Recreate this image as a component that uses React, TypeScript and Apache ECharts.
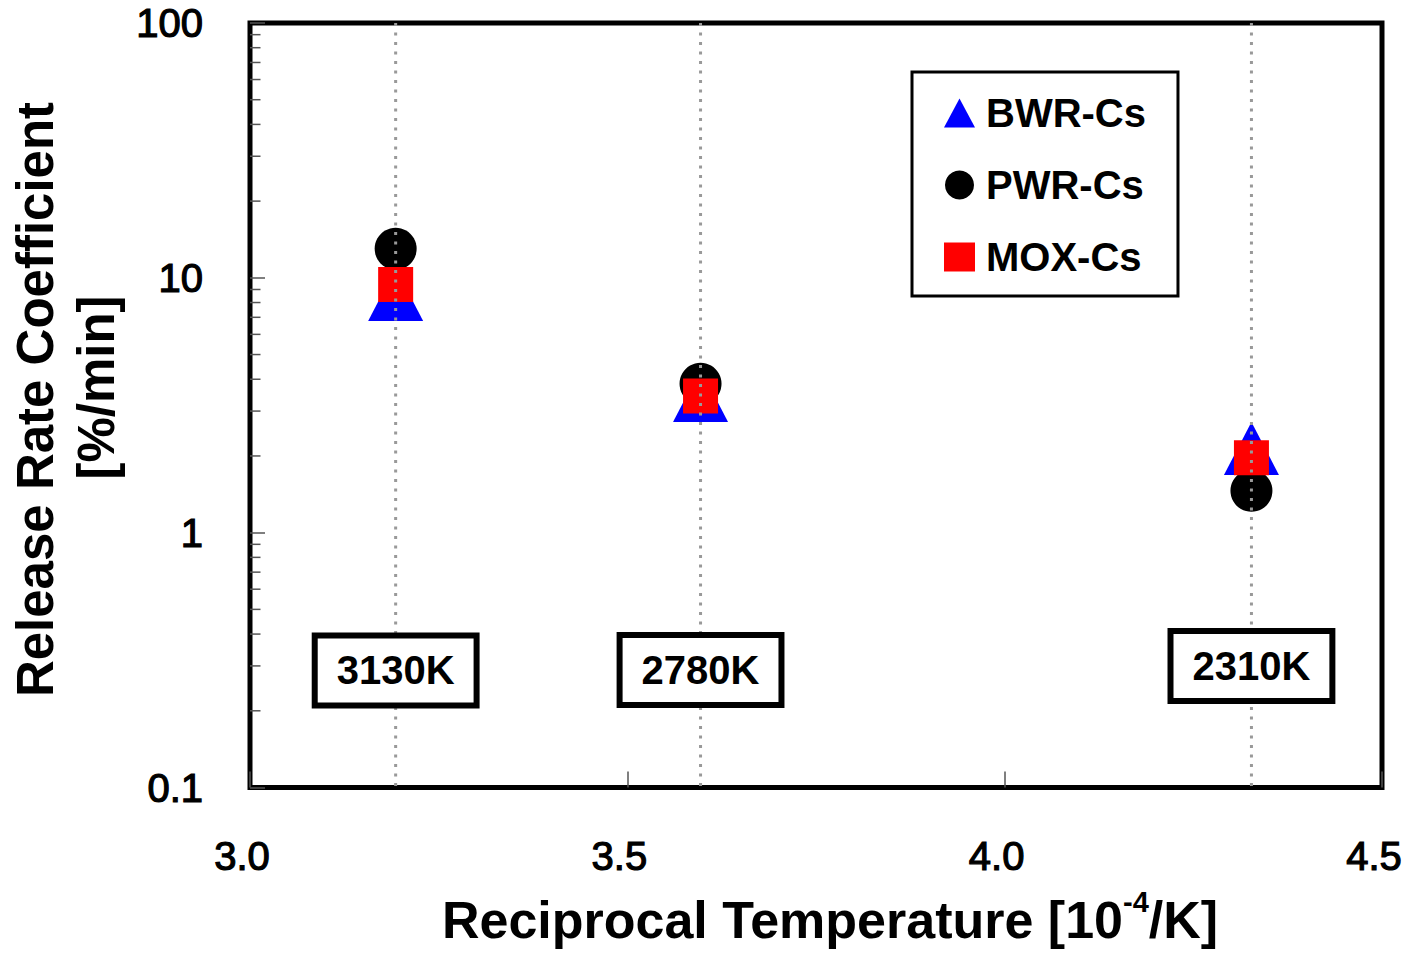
import React, { useEffect, useRef } from 'react';
import * as echarts from 'echarts';

const temperatures = ['3130K', '2780K', '2310K'];
const reciprocalT = [3.193, 3.597, 4.327];
const bwrCs = [8.6, 3.45, 2.14];
const pwrCs = [13.0, 3.84, 1.46];
const moxCs = [9.41, 3.44, 1.97];
const tempLabelY = [0.288, 0.289, 0.3];
const yMinorTicks = [
  0.2, 0.3, 0.4, 0.5, 0.6, 0.7, 0.8, 0.9,
  2, 3, 4, 5, 6, 7, 8, 9,
  20, 30, 40, 50, 60, 70, 80, 90,
];
const xMin = 3.0;
const xMax = 4.5;
const xInterval = 0.5;
const yMin = 0.1;
const yMax = 100;

const FONT = '"Liberation Sans", Arial, sans-serif';

export default function App() {
  const ref = useRef<HTMLDivElement>(null);
  useEffect(() => {
    if (!ref.current) return;
    const chart = echarts.init(ref.current, null, { renderer: 'svg' });
    const pts = (ys: number[]) => reciprocalT.map((x, i) => [x, ys[i]]);
    chart.setOption({
      animation: false,
      backgroundColor: '#fff',
      textStyle: { fontFamily: FONT },
      grid: {
        left: 250,
        right: 25,
        top: 23,
        bottom: 167.5,
        show: true,
        borderColor: '#000',
        borderWidth: 5,
        backgroundColor: 'transparent',
      },
      xAxis: {
        type: 'value',
        min: xMin,
        max: xMax,
        interval: xInterval,
        axisLine: { show: false },
        splitLine: { show: false },
        axisTick: { show: true, inside: true, length: 16, lineStyle: { color: '#555', width: 1.5 } },
        axisLabel: {
          fontSize: 40,
          color: '#000',
          fontFamily: FONT,
          textBorderColor: '#000',
          textBorderWidth: 1.2,
          margin: 48,
          padding: [0, 16, 0, 0],
          formatter: (v: number) => v.toFixed(1),
        },
      },
      yAxis: {
        type: 'log',
        logBase: 10,
        min: yMin,
        max: yMax,
        axisLine: { show: false },
        splitLine: { show: false },
        axisTick: { show: true, inside: true, length: 15, lineStyle: { color: '#555', width: 1.5 } },
        axisLabel: {
          fontSize: 40,
          color: '#000',
          fontFamily: FONT,
          textBorderColor: '#000',
          textBorderWidth: 1.2,
          margin: 47,
          padding: [20, 0, 0, 0],
          formatter: (v: number) => String(v),
        },
      },
      legend: {
        data: [
          { name: 'BWR-Cs', icon: 'triangle' },
          { name: 'PWR-Cs', icon: 'circle' },
          { name: 'MOX-Cs', icon: 'rect' },
        ],
        orient: 'vertical',
        left: 912,
        top: 72,
        itemWidth: 31,
        itemHeight: 29,
        itemGap: 32,
        padding: [21, 32, 19, 32],
        borderColor: '#000',
        borderWidth: 3,
        backgroundColor: '#fff',
        selectedMode: false,
        textStyle: { fontSize: 40, fontWeight: 'bold', color: '#000', fontFamily: FONT, padding: [0, 0, 0, 6] },
      },
      graphic: [
        {
          type: 'text',
          x: 35,
          y: 399.5,
          rotation: Math.PI / 2,
          style: {
            text: 'Release Rate Coefficient',
            fontSize: 51,
            fontWeight: 'bold',
            fontFamily: FONT,
            fill: '#000',
            textAlign: 'center',
            textVerticalAlign: 'middle',
          },
        },
        {
          type: 'text',
          x: 96,
          y: 387.5,
          rotation: Math.PI / 2,
          style: {
            text: '[%/min]',
            fontSize: 51,
            fontWeight: 'bold',
            fontFamily: FONT,
            fill: '#000',
            textAlign: 'center',
            textVerticalAlign: 'middle',
          },
        },
        {
          type: 'text',
          x: 830,
          y: 920,
          style: {
            text: 'Reciprocal Temperature [10{sup|-4}/K]',
            fontSize: 52,
            fontWeight: 'bold',
            fontFamily: FONT,
            fill: '#000',
            lineHeight: 66,
            textAlign: 'center',
            textVerticalAlign: 'middle',
            rich: {
              sup: {
                fontSize: 29,
                lineHeight: 29,
                fontWeight: 'bold',
                fontFamily: FONT,
                fill: '#000',
                verticalAlign: 'top',
              },
            },
          },
        },
      ],
      series: [
        {
          name: 'minorTicks',
          type: 'custom',
          coordinateSystem: 'cartesian2d',
          silent: true,
          z: 1,
          data: yMinorTicks.map((v) => [xMin, v]),
          renderItem: (params: any, api: any) => {
            const p = api.coord([api.value(0), api.value(1)]);
            return {
              type: 'line',
              shape: { x1: p[0], y1: p[1], x2: p[0] + 10.5, y2: p[1] },
              style: { stroke: '#555', lineWidth: 1.5 },
            };
          },
        },
        {
          name: 'BWR-Cs',
          type: 'scatter',
          symbol: 'triangle',
          symbolSize: [55, 53],
          itemStyle: { color: '#0000FF', opacity: 1 },
          z: 3,
          data: pts(bwrCs),
        },
        {
          name: 'PWR-Cs',
          type: 'scatter',
          symbol: 'circle',
          symbolSize: 42,
          itemStyle: { color: '#000000', opacity: 1 },
          z: 4,
          data: pts(pwrCs),
        },
        {
          name: 'MOX-Cs',
          type: 'scatter',
          symbol: 'rect',
          symbolSize: 35,
          itemStyle: { color: '#FF0000', opacity: 1 },
          z: 5,
          data: pts(moxCs),
        },
        {
          name: 'guides',
          type: 'custom',
          coordinateSystem: 'cartesian2d',
          silent: true,
          z: 6,
          data: reciprocalT.map((x) => [x, yMin]),
          renderItem: (params: any, api: any) => {
            const top = api.coord([api.value(0), yMax]);
            const bottom = api.coord([api.value(0), api.value(1)]);
            return {
              type: 'line',
              shape: { x1: top[0], y1: top[1], x2: bottom[0], y2: bottom[1] + 4 },
              style: { stroke: '#999', lineWidth: 3, lineDash: [3, 6.5] },
            };
          },
        },
        {
          name: 'tempLabels',
          type: 'scatter',
          symbol: 'circle',
          symbolSize: 1,
          itemStyle: { color: 'rgba(255,255,255,0)', opacity: 1 },
          z: 10,
          silent: true,
          data: reciprocalT.map((x, i) => ({ value: [x, tempLabelY[i]], name: temperatures[i] })),
          label: {
            show: true,
            position: 'inside',
            formatter: (p: any) => p.name,
            fontSize: 40,
            fontWeight: 'bold',
            fontFamily: FONT,
            color: '#000',
            textBorderWidth: 0,
            textBorderColor: 'transparent',
            lineHeight: 40,
            backgroundColor: '#fff',
            borderColor: '#000',
            borderWidth: 6,
            padding: [12, 19, 12, 19],
          },
        },
      ],
    });
    return () => chart.dispose();
  }, []);
  return (
    <div
      ref={ref}
      style={{ position: 'fixed', left: 0, top: 0, width: 1407, height: 955, background: '#fff' }}
    />
  );
}
